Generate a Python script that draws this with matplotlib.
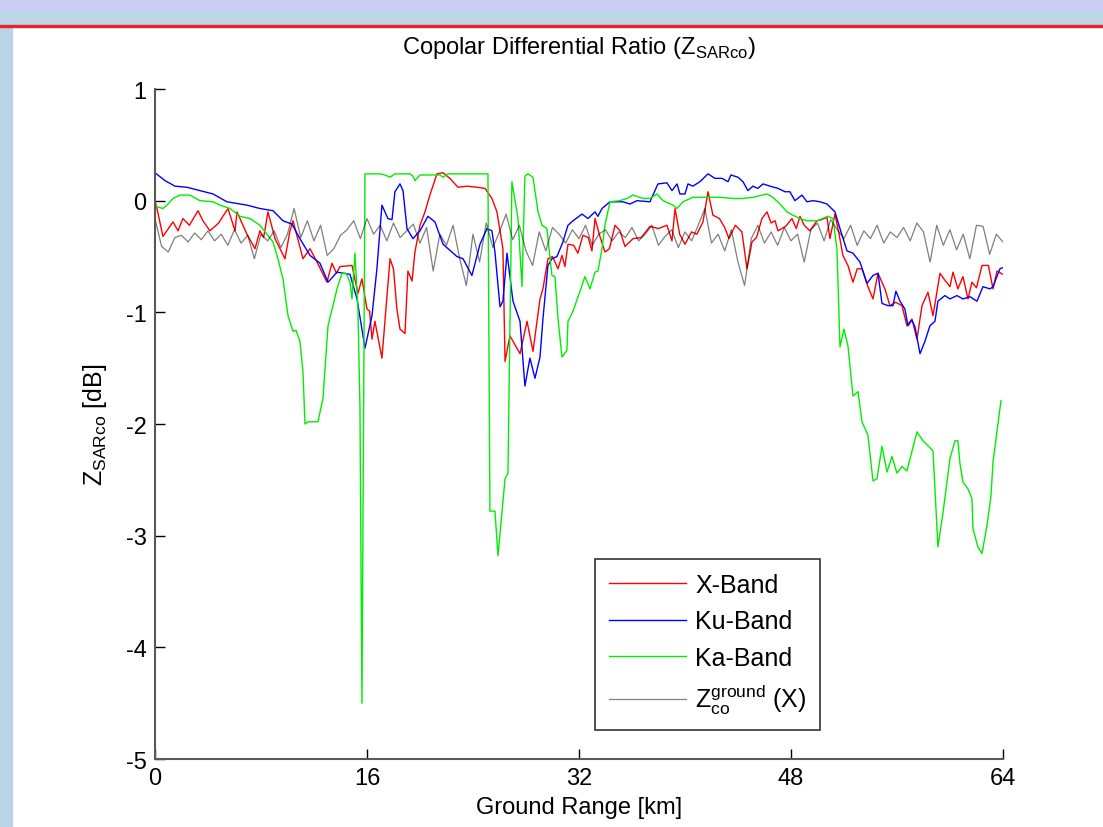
import matplotlib
matplotlib.use("Agg")
import matplotlib.pyplot as plt
from matplotlib.patches import Rectangle
from matplotlib import font_manager

# font: narrow sans if available
names = {f.name for f in font_manager.fontManager.ttflist}
fam = "Liberation Sans Narrow" if "Liberation Sans Narrow" in names else "Liberation Sans"
plt.rcParams["font.family"] = [fam, "DejaVu Sans"]
plt.rcParams["mathtext.fontset"] = "custom"
plt.rcParams["mathtext.rm"] = fam
plt.rcParams["axes.unicode_minus"] = False

# Ground Range [km] / Z [dB]
# X-Band
x_red = [0.0, 0.15, 0.6, 1.36, 1.74, 2.11, 2.6, 3.25, 3.62, 4.15, 4.8, 5.51, 6.04, 6.19, 6.94,
         7.55, 7.92, 8.2, 8.53, 9.06, 9.81, 10.19, 10.42, 11.17, 11.7, 12.23, 12.98, 13.36, 13.7,
         13.96, 14.87, 15.32, 15.62, 16.0, 16.2, 16.38, 16.6, 17.13, 17.74, 18.0, 18.26, 18.49,
         18.87, 19.09, 19.4, 19.62, 20.0, 20.38, 20.75, 21.28, 21.74, 22.26, 22.87, 23.55, 24.3,
         24.91, 25.43, 25.81, 26.26, 26.42, 26.79, 27.55, 28.08, 28.53, 29.06, 29.28, 29.66, 30.0,
         30.42, 30.72, 30.94, 31.17, 31.6, 31.92, 32.3, 32.7, 32.98, 33.21, 33.58, 33.96, 34.3,
         34.72, 35.1, 35.47, 36.08, 36.7, 37.36, 38.0, 38.64, 39.02, 39.25, 39.6, 40.0, 40.5, 40.9,
         41.36, 41.74, 42.11, 42.6, 43.0, 43.32, 43.8, 44.3, 44.68, 45.06, 45.4, 45.81, 46.19,
         46.5, 46.8, 47.02, 47.6, 48.08, 48.4, 48.68, 49.0, 49.43, 49.96, 50.3, 50.72, 50.94,
         51.32, 51.6, 51.92, 52.3, 52.68, 53.0, 53.36, 53.81, 54.19, 54.57, 55.09, 55.47, 55.9,
         56.38, 56.75, 57.13, 57.51, 57.89, 58.34, 58.72, 59.25, 59.6, 60.0, 60.23, 60.6, 60.98,
         61.36, 61.66, 62.0, 62.42, 62.9, 63.25, 63.55, 64.0]
z_red = [0.0, -0.07, -0.32, -0.19, -0.27, -0.16, -0.22, -0.09, -0.18, -0.27, -0.2, -0.07, -0.27,
         -0.1, -0.3, -0.43, -0.27, -0.33, -0.1, -0.34, -0.52, -0.27, -0.18, -0.52, -0.43, -0.55,
         -0.73, -0.56, -0.65, -0.59, -0.58, -0.83, -0.7, -0.97, -0.99, -1.24, -1.08, -1.41, -0.52,
         -0.61, -0.97, -1.15, -1.19, -0.63, -0.72, -0.46, -0.22, -0.1, 0.05, 0.24, 0.25, 0.2, 0.12,
         0.13, 0.12, 0.11, 0.02, -0.1, -0.43, -1.44, -1.21, -1.37, -1.08, -1.35, -0.88, -0.79,
         -0.52, -0.5, -0.61, -0.49, -0.59, -0.39, -0.4, -0.47, -0.31, -0.33, -0.45, -0.16, -0.32,
         -0.46, -0.43, -0.22, -0.27, -0.41, -0.34, -0.33, -0.23, -0.25, -0.22, -0.36, -0.07, -0.3,
         -0.39, -0.28, -0.3, -0.19, 0.08, -0.13, -0.16, -0.24, -0.34, -0.22, -0.28, -0.61, -0.37,
         -0.33, -0.16, -0.1, -0.2, -0.18, -0.27, -0.23, -0.16, -0.25, -0.14, -0.22, -0.27, -0.18,
         -0.17, -0.15, -0.34, -0.12, -0.28, -0.49, -0.58, -0.73, -0.61, -0.61, -0.77, -0.88, -0.65,
         -0.79, -0.94, -0.91, -0.94, -1.12, -1.06, -1.24, -0.94, -0.82, -1.03, -0.65, -0.71, -0.77,
         -0.64, -0.79, -0.68, -0.88, -0.73, -0.78, -0.58, -0.58, -0.79, -0.63, -0.66]

# Ku-Band
x_blue = [0.0, 0.75, 1.51, 2.42, 3.4, 4.38, 5.43, 6.94, 7.92, 8.91, 9.66, 10.34, 10.94, 11.7,
          12.45, 13.06, 13.74, 14.72, 15.25, 15.85, 16.38, 16.75, 17.13, 17.58, 17.89, 18.11,
          18.49, 18.72, 19.02, 19.47, 20.0, 20.6, 21.13, 21.74, 22.79, 23.25, 23.92, 24.53, 25.06,
          25.43, 25.66, 26.04, 26.26, 26.57, 27.02, 27.55, 27.92, 28.3, 28.68, 29.06, 29.28, 29.66,
          29.96, 30.34, 30.79, 31.17, 31.55, 32.23, 32.68, 33.21, 33.43, 33.74, 34.34, 35.32,
          35.85, 36.38, 37.36, 37.96, 38.64, 39.02, 39.4, 39.62, 40.0, 40.23, 40.6, 41.13, 41.74,
          42.26, 42.79, 43.25, 43.47, 44.0, 44.38, 44.75, 45.13, 45.5, 45.89, 46.42, 47.02, 47.55,
          47.92, 48.3, 48.83, 49.21, 49.66, 50.19, 50.72, 51.32, 51.7, 52.23, 52.68, 53.21, 53.74,
          54.19, 54.57, 54.87, 55.32, 55.7, 55.92, 56.23, 56.6, 56.83, 57.13, 57.36, 57.74, 58.11,
          58.49, 58.87, 59.09, 59.62, 60.0, 60.53, 60.98, 61.51, 62.04, 62.49, 63.02, 63.25,
          63.77, 64.0]
z_blue = [0.25, 0.18, 0.13, 0.12, 0.09, 0.06, -0.01, -0.04, -0.07, -0.09, -0.18, -0.21, -0.34,
          -0.49, -0.56, -0.73, -0.64, -0.66, -0.88, -1.32, -1.03, -0.61, -0.04, -0.16, -0.17, 0.08,
          0.15, 0.09, -0.25, -0.34, -0.27, -0.14, -0.19, -0.39, -0.5, -0.52, -0.67, -0.39, -0.25,
          -0.27, -0.46, -0.95, -0.9, -0.47, -0.9, -1.08, -1.66, -1.41, -1.59, -1.4, -1.06, -0.58,
          -0.52, -0.5, -0.37, -0.22, -0.18, -0.12, -0.16, -0.1, -0.14, -0.07, -0.01, -0.01, -0.03,
          0.0, -0.01, 0.15, 0.16, 0.09, 0.15, 0.06, 0.06, 0.15, 0.13, 0.17, 0.24, 0.2, 0.2, 0.17,
          0.23, 0.21, 0.17, 0.09, 0.13, 0.11, 0.15, 0.13, 0.11, 0.08, 0.08, 0.0, 0.05, -0.01, 0.0,
          -0.01, -0.03, -0.1, -0.25, -0.45, -0.47, -0.55, -0.74, -0.67, -0.65, -0.92, -0.94, -0.94,
          -0.81, -0.9, -0.97, -1.12, -1.07, -1.13, -1.37, -1.26, -1.12, -1.08, -0.9, -0.85, -0.88,
          -0.85, -0.88, -0.86, -0.9, -0.77, -0.79, -0.77, -0.61, -0.6]

# Ka-Band
x_green = [0.0, 0.6, 0.91, 1.36, 1.89, 2.64, 3.4, 4.38, 4.91, 5.66, 6.42, 7.17, 7.92, 8.45,
           8.91, 9.28, 9.66, 10.04, 10.42, 10.64, 10.94, 11.17, 11.32, 11.55, 12.3, 12.68, 13.06,
           13.43, 13.74, 14.11, 14.42, 14.72, 14.87, 15.09, 15.32, 15.47, 15.62, 15.85, 16.98,
           17.36, 17.74, 18.11, 19.25, 19.47, 19.62, 20.0, 21.51, 21.74, 22.11, 25.13, 25.28,
           25.66, 25.89, 26.42, 26.64, 26.94, 27.4, 27.7, 27.92, 28.15, 28.53, 28.91, 29.21,
           29.58, 29.96, 30.19, 30.42, 30.72, 31.09, 31.17, 31.55, 32.08, 32.45, 32.83, 33.21,
           33.43, 33.74, 33.96, 34.34, 35.09, 35.62, 36.08, 36.83, 37.36, 37.89, 38.34, 39.09,
           39.4, 39.85, 40.6, 41.66, 42.64, 43.62, 44.38, 45.13, 46.19, 46.64, 47.17, 47.7, 48.15,
           48.68, 49.21, 49.96, 50.79, 51.17, 51.47, 51.7, 52.0, 52.3, 52.68, 53.06, 53.36, 53.81,
           54.19, 54.49, 54.87, 55.25, 55.62, 56.0, 56.38, 56.75, 57.51, 57.96, 58.72, 59.09,
           59.47, 60.0, 60.38, 60.6, 60.75, 60.98, 61.36, 61.66, 61.74, 62.11, 62.42, 62.79,
           63.09, 63.25, 63.85]
z_green = [-0.05, -0.07, -0.04, 0.02, 0.05, 0.05, 0.0, -0.01, -0.04, -0.07, -0.14, -0.16, -0.22,
           -0.3, -0.37, -0.52, -0.7, -1.03, -1.17, -1.16, -1.26, -1.53, -2.0, -1.98, -1.98, -1.77,
           -1.12, -0.94, -0.79, -0.65, -0.65, -0.73, -0.88, -0.47, -0.97, -1.84, -4.5, 0.24, 0.24,
           0.23, 0.21, 0.24, 0.24, 0.22, 0.18, 0.23, 0.23, 0.21, 0.24, 0.24, -2.78, -2.78, -3.18,
           -2.49, -2.44, 0.17, -0.16, -0.77, 0.22, 0.24, 0.21, -0.1, -0.22, -0.25, -0.67, -0.68,
           -1.06, -1.4, -1.34, -1.08, -0.99, -0.81, -0.68, -0.79, -0.64, -0.63, -0.43, -0.22, -0.01,
           0.0, 0.02, 0.05, 0.02, 0.02, 0.06, 0.0, -0.04, -0.07, -0.01, 0.03, 0.03, 0.03, 0.02,
           0.02, 0.03, 0.06, 0.03, -0.03, -0.1, -0.13, -0.16, -0.18, -0.18, -0.14, -0.16, -0.43,
           -1.31, -1.15, -1.3, -1.75, -1.71, -1.98, -2.1, -2.51, -2.49, -2.2, -2.43, -2.29, -2.44,
           -2.38, -2.42, -2.07, -2.15, -2.24, -3.1, -2.8, -2.31, -2.15, -2.15, -2.35, -2.52, -2.58,
           -2.67, -2.94, -3.1, -3.16, -2.91, -2.65, -2.34, -1.79]

# Z_co ground (X), every 0.5 km
x_gray = [i * 0.5 for i in range(129)]
z_gray = [-0.16, -0.41, -0.46, -0.33, -0.31, -0.37, -0.29, -0.35,
          -0.27, -0.36, -0.30, -0.40, -0.26, -0.38, -0.31, -0.52,
          -0.30, -0.36, -0.27, -0.42, -0.30, -0.07, -0.33, -0.18,
          -0.36, -0.22, -0.49, -0.43, -0.31, -0.26, -0.18, -0.34,
          -0.16, -0.30, -0.22, -0.36, -0.20, -0.33, -0.27, -0.21,
          -0.38, -0.24, -0.63, -0.30, -0.40, -0.22, -0.52, -0.76,
          -0.30, -0.55, -0.20, -0.42, -0.28, -0.12, -0.35, -0.22,
          -0.45, -0.58, -0.28, -0.45, -0.24, -0.30, -0.38, -0.26,
          -0.34, -0.22, -0.40, -0.30, -0.26, -0.36, -0.28, -0.33,
          -0.24, -0.36, -0.30, -0.22, -0.40, -0.32, -0.26, -0.42,
          -0.28, -0.36, -0.22, -0.07, -0.38, -0.30, -0.45, -0.26,
          -0.55, -0.76, -0.34, -0.22, -0.38, -0.28, -0.40, -0.24,
          -0.36, -0.30, -0.55, -0.26, -0.20, -0.36, -0.17, -0.26,
          -0.34, -0.22, -0.40, -0.27, -0.34, -0.22, -0.38, -0.28,
          -0.33, -0.24, -0.36, -0.20, -0.28, -0.55, -0.22, -0.40,
          -0.26, -0.44, -0.30, -0.52, -0.22, -0.23, -0.48, -0.30,
          -0.37]

xticks = [0, 16, 32, 48, 64]
yticks = [1, 0, -1, -2, -3, -4, -5]

fig = plt.figure(figsize=(11.03, 8.28), dpi=100)

# slide background bits
fig.patches.append(Rectangle((0, 0.984), 1, 0.016, transform=fig.transFigure,
                             color="#cbcdf6", zorder=0))
fig.patches.append(Rectangle((0, 0.969), 1, 0.016, transform=fig.transFigure,
                             color="#bcd6e8", zorder=0))
fig.patches.append(Rectangle((0, 0.966), 1, 0.003, transform=fig.transFigure,
                             color="#e8262a", zorder=1))
fig.patches.append(Rectangle((0, 0), 0.011, 0.966, transform=fig.transFigure,
                             color="#b9d4e6", zorder=0))

ax = fig.add_axes([0.1405, 0.0821, 0.7688, 0.8092])
ax.plot(x_red, z_red, color="#ff0000", lw=1.0, label="X-Band")
ax.plot(x_blue, z_blue, color="#0000ff", lw=1.0, label="Ku-Band")
ax.plot(x_green, z_green, color="#00ee00", lw=1.0, label="Ka-Band")
ax.plot(x_gray, z_gray, color="k", alpha=0.5, lw=0.9,
        label=r"$\mathrm{Z}_{\mathrm{co}}^{\mathrm{ground}}$ (X)")

ax.set_xlim(0, 64)
ax.set_ylim(-5, 1)
ax.set_xticks(xticks)
ax.set_yticks(yticks)
ax.spines["top"].set_visible(False)
ax.spines["right"].set_visible(False)
for s in ["left", "bottom"]:
    ax.spines[s].set_color("0.35")
    ax.spines[s].set_linewidth(1.5)
ax.tick_params(direction="in", length=7, width=1, labelsize=17, colors="k", pad=6)

ax.set_title(r"Copolar Differential Ratio ($\mathrm{Z}_{\mathrm{SARco}}$)", fontsize=17, pad=26)
ax.set_ylabel(r"$\mathrm{Z}_{\mathrm{SARco}}$ [dB]", fontsize=18, labelpad=12)
ax.set_xlabel("Ground Range [km]", fontsize=17, labelpad=5)

leg = ax.legend(loc="upper left", bbox_to_anchor=(0.519, 0.2985), borderaxespad=0,
                fontsize=18, frameon=True, fancybox=False, handlelength=3.1,
                handletextpad=0.35, borderpad=0.55, labelspacing=0.5)
leg.get_frame().set_edgecolor("k")
leg.get_frame().set_linewidth(1.2)

fig.savefig("out.png", dpi=100)
